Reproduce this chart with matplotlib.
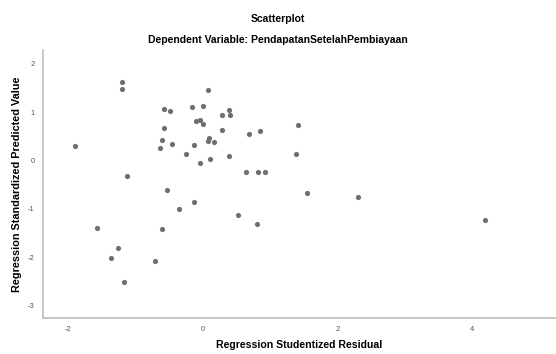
# scatterplot of regression residuals vs predicted values (SPSS style)

import matplotlib
matplotlib.use("Agg")
import matplotlib.pyplot as plt

POINT_COLOR = "#6e6e6e"
SPINE_COLOR = "#bdbdbd"
TICK_COLOR = "#555555"

# studentized residuals (x) and standardized predicted values (y)
residual = [-1.21, -1.21, 0.08, -1.90, -0.58, -0.49, -0.16, 0.00, 0.28, 0.39,
            0.40, -0.11, -0.04, 0.00, -0.58, 0.28, 0.68, 0.85, -0.61, -0.64,
            -0.46, -0.14, 0.09, 0.08, 0.16, -0.25, -0.04, 0.11, 0.39, 0.64,
            0.82, 0.92, -1.13, -0.54, -0.13, -0.36, 0.52, 0.80, -1.57, -0.61,
            -1.27, -1.37, -0.72, -1.18, 1.41, 1.38, 1.55, 2.30, 4.19]
predicted = [1.61, 1.48, 1.46, 0.30, 1.06, 1.02, 1.11, 1.12, 0.94, 1.05,
             0.93, 0.82, 0.84, 0.75, 0.68, 0.62, 0.55, 0.60, 0.42, 0.26,
             0.33, 0.32, 0.47, 0.40, 0.38, 0.14, -0.05, 0.04, 0.09, -0.24,
             -0.24, -0.24, -0.31, -0.61, -0.85, -1.01, -1.13, -1.31, -1.39, -1.41,
             -1.80, -2.02, -2.08, -2.51, 0.74, 0.13, -0.68, -0.75, -1.22]

x_ticks = [-2, 0, 2, 4]
y_ticks = [-3, -2, -1, 0, 1, 2]

plt.rcParams["font.family"] = ["Liberation Sans", "DejaVu Sans"]
plt.rcParams["axes.unicode_minus"] = False

fig = plt.figure(figsize=(5.56, 3.54), dpi=100)
ax = fig.add_axes([0.0773, 0.1017, 0.9227, 0.7571])

ax.scatter(residual, predicted, s=14, color=POINT_COLOR, linewidths=0, zorder=3)

ax.set_xlim(-2.38, 5.25)
ax.set_ylim(-3.25, 2.28)
ax.set_xticks(x_ticks)
ax.set_yticks(y_ticks)
ax.tick_params(length=0, labelsize=5.5, labelcolor=TICK_COLOR, pad=6)

for side in ["top", "right"]:
    ax.spines[side].set_visible(False)
for side in ["left", "bottom"]:
    ax.spines[side].set_color(SPINE_COLOR)
    ax.spines[side].set_linewidth(1.2)

ax.set_xlabel("Regression Studentized Residual", fontsize=7.6, fontweight="bold", labelpad=5)
ax.set_ylabel("Regression Standardized Predicted Value", fontsize=7.8, fontweight="bold", labelpad=4)

fig.text(0.5, 1 - 19 / 354, "Scatterplot", ha="center", va="center", fontsize=7.5, fontweight="bold")
fig.text(0.5, 1 - 40 / 354, "Dependent Variable: PendapatanSetelahPembiayaan",
         ha="center", va="center", fontsize=7.5, fontweight="bold")

fig.savefig("out.png", dpi=100)
